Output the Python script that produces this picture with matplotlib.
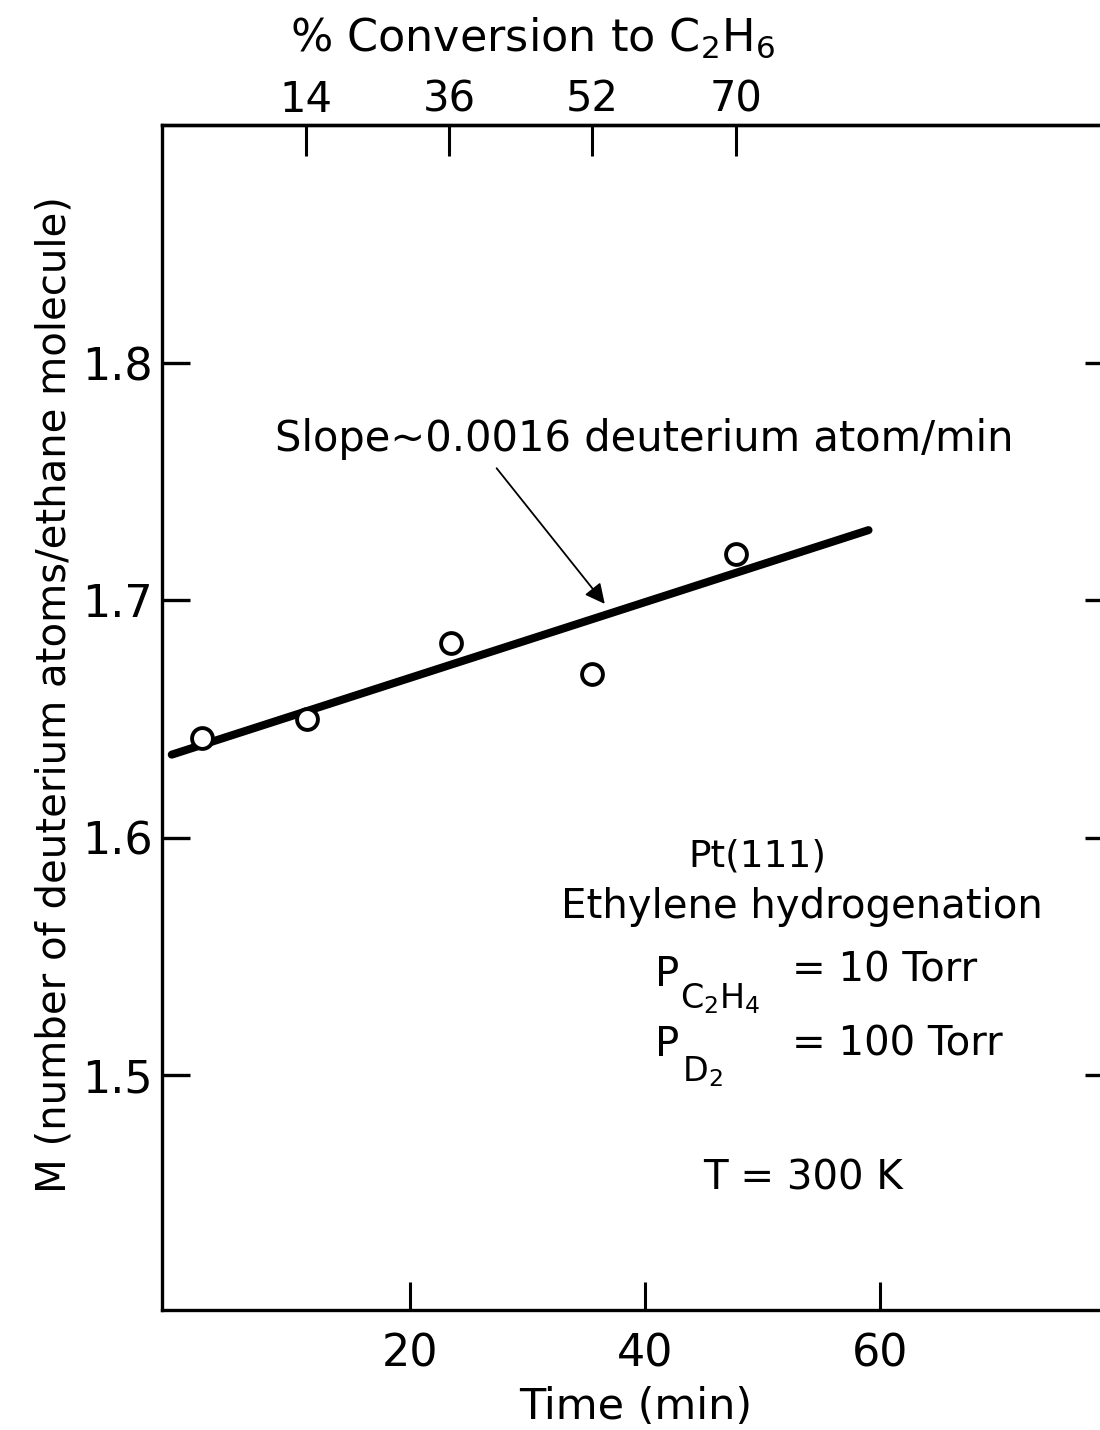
import matplotlib
matplotlib.use("Agg")
import matplotlib.pyplot as plt

# datos
tiempo = [2.3, 11.2, 23.5, 35.5, 47.7]
valores_M = [1.642, 1.650, 1.682, 1.669, 1.7195]

# recta de ajuste (pendiente ~0.0016)
recta_t = [-0.3, 59.0]
recta_M = [1.635, 1.7296]

# eje superior: % de conversion
conv_t = [11.1, 23.3, 35.5, 47.7]
conv_etiquetas = ["14", "36", "52", "70"]

ticks_t = [20, 40, 60]
ticks_M = [1.5, 1.6, 1.7, 1.8]


def main():
    plt.rcParams['font.family'] = ['DejaVu Sans']
    plt.rcParams['mathtext.fontset'] = 'dejavusans'

    W, H = 1100, 1430
    fig = plt.figure(figsize=(W / 100, H / 100), dpi=100)
    ax = fig.add_axes([162 / W, 1 - 1310 / H, 1 - 162 / W, (1310 - 125) / H])

    def px(x, y):
        # posicion en pixeles de la figura -> coordenadas de figura
        return x / W, 1 - y / H

    ax.plot(recta_t, recta_M, color='black', lw=5.8, solid_capstyle='round')
    ax.plot(tiempo, valores_M, 'o', ms=15, mfc='white', mec='black', mew=2.8)

    ax.set_xlim(-1.13, 78.7)
    ax.set_ylim(1.401, 1.9003)

    for lado in ['left', 'bottom', 'top']:
        ax.spines[lado].set_linewidth(2.4)
    ax.spines['right'].set_visible(False)

    ax.set_xticks(ticks_t)
    ax.set_xticklabels([str(t) for t in ticks_t])
    ax.set_yticks(ticks_M)
    ax.set_yticklabels(["1.5", "1.6", "1.7", "1.8"])
    ax.tick_params(axis='x', direction='in', length=20, width=2.2, pad=16, labelsize=32)
    ax.tick_params(axis='y', direction='in', length=20, width=2.4, pad=7, labelsize=32)
    ax.tick_params(axis='y', which='major', right=True)
    for t in ax.yaxis.get_major_ticks():
        t.tick2line.set_markersize(11)

    fig.text(*px(636, 1407), "Time (min)", fontsize=31, ha='center', va='center')
    fig.text(*px(55, 695), "M (number of deuterium atoms/ethane molecule)",
             fontsize=29, rotation=90, ha='center', va='center')

    # eje superior
    ax2 = ax.twiny()
    ax2.set_xlim(ax.get_xlim())
    ax2.set_xticks(conv_t)
    ax2.set_xticklabels(conv_etiquetas)
    ax2.tick_params(axis='x', direction='in', length=22, width=2.2, pad=3, labelsize=30)
    for lado in ['left', 'right', 'bottom']:
        ax2.spines[lado].set_visible(False)
    ax2.spines['top'].set_linewidth(2.4)
    fig.text(*px(533, 38), r"% Conversion to C$_2$H$_6$", fontsize=32,
             ha='center', va='center')

    # pendiente
    ax.annotate("", xy=(36.7, 1.6976), xytext=(27.2, 1.7566),
                arrowprops=dict(arrowstyle='-|>', color='black', lw=1.3,
                                mutation_scale=30))
    ax.text(8.5, 1.768, "Slope~0.0016 deuterium atom/min", fontsize=30,
            ha='left', va='center')

    # condiciones
    fig.text(*px(757, 857), "Pt(111)", fontsize=27, ha='center', va='center')
    fig.text(*px(802, 907), "Ethylene hydrogenation", fontsize=29,
             ha='center', va='center')
    fig.text(*px(655, 975), "P", fontsize=29, ha='left', va='center')
    fig.text(*px(680, 999), r"C$_2$H$_4$", fontsize=24, ha='left', va='center')
    fig.text(*px(792, 970), "= 10 Torr", fontsize=29, ha='left', va='center')
    fig.text(*px(655, 1045), "P", fontsize=29, ha='left', va='center')
    fig.text(*px(682, 1072), r"D$_2$", fontsize=24, ha='left', va='center')
    fig.text(*px(792, 1045), "= 100 Torr", fontsize=29, ha='left', va='center')
    fig.text(*px(803, 1178), "T = 300 K", fontsize=29, ha='center', va='center')

    plt.savefig("out.png", dpi=100)


if __name__ == "__main__":
    main()
